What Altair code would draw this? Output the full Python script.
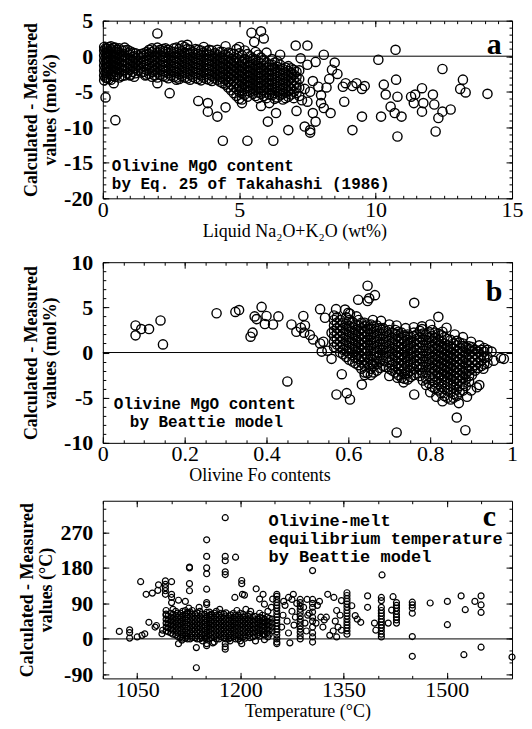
import altair as alt
import pandas as pd

# ---------------- Panel a: Olivine MgO (Takahashi) vs liquid Na2O+K2O ----------------
a_cluster = [
    (0.05, [-3.4, -2.7, -2.0, -1.3, -0.6, 0.1, 0.8, 1.3]),
    (0.15, [-3.1, -2.4, -1.7, -1.0, -0.3, 0.4, 1.1]),
    (0.3, [-3.3, -2.5, -1.8, -1.1, -0.4, 0.3, 1.0, 1.4]),
    (0.45, [-2.9, -2.2, -1.5, -0.8, -0.1, 0.6, 1.2]),
    (0.6, [-3.0, -2.3, -1.6, -0.9, -0.2, 0.5, 1.1]),
    (0.8, [-2.7, -2.0, -1.3, -0.6, 0.1, 0.8]),
    (1.0, [-2.6, -1.9, -1.2, -0.5, 0.2, 0.7]),
    (1.2, [-2.4, -1.7, -1.0, -0.3, 0.4]),
    (1.4, [-2.3, -1.6, -0.9, -0.2, 0.3]),
    (1.6, [-2.6, -1.9, -1.2, -0.5, 0.2, 0.6]),
    (1.8, [-2.9, -2.2, -1.5, -0.8, -0.1, 0.6, 1.1]),
    (2.0, [-3.0, -2.3, -1.6, -0.9, -0.2, 0.5, 1.2]),
    (2.2, [-2.8, -2.1, -1.4, -0.7, 0.0, 0.7, 1.0]),
    (2.4, [-3.1, -2.4, -1.7, -1.0, -0.3, 0.4, 0.9]),
    (2.6, [-2.9, -2.2, -1.5, -0.8, -0.1, 0.6, 1.1]),
    (2.8, [-3.2, -2.5, -1.8, -1.1, -0.4, 0.3, 1.0]),
    (3.0, [-3.0, -2.3, -1.6, -0.9, -0.2, 0.5, 1.3]),
    (3.2, [-3.3, -2.6, -1.9, -1.2, -0.5, 0.2, 0.9]),
    (3.4, [-3.1, -2.4, -1.7, -1.0, -0.3, 0.4, 1.0]),
    (3.6, [-3.4, -2.7, -2.0, -1.3, -0.6, 0.1, 0.8]),
    (3.8, [-3.2, -2.5, -1.8, -1.1, -0.4, 0.3, 0.7]),
    (4.0, [-3.5, -2.8, -2.1, -1.4, -0.7, 0.0, 0.8]),
    (4.2, [-3.3, -2.6, -1.9, -1.2, -0.5, 0.2, 0.9]),
    (4.4, [-3.8, -3.1, -2.4, -1.7, -1.0, -0.3, 0.6]),
    (4.6, [-4.4, -3.6, -2.9, -2.2, -1.5, -0.8, -0.1, 0.5]),
    (4.8, [-5.2, -4.3, -3.5, -2.8, -2.1, -1.4, -0.7, 0.3]),
    (5.0, [-6.0, -5.0, -4.2, -3.4, -2.7, -2.0, -1.3, -0.6, 0.4]),
    (5.2, [-5.4, -4.6, -3.9, -3.2, -2.5, -1.8, -1.1, -0.4, 0.8]),
    (5.4, [-5.0, -4.3, -3.6, -2.9, -2.2, -1.5, -0.8, 0.0]),
    (5.6, [-5.6, -4.8, -4.1, -3.4, -2.7, -2.0, -1.3, -0.5, 0.6]),
    (5.8, [-5.3, -4.5, -3.8, -3.1, -2.4, -1.7, -1.0, -0.2]),
    (6.0, [-5.9, -5.1, -4.4, -3.7, -3.0, -2.3, -1.6, -0.9]),
    (6.2, [-5.5, -4.7, -4.0, -3.3, -2.6, -1.9, -1.2, -0.4]),
    (6.4, [-5.8, -5.0, -4.3, -3.6, -2.9, -2.2, -1.5, -0.7]),
    (6.6, [-6.1, -5.3, -4.6, -3.9, -3.2, -2.5, -1.8]),
    (6.8, [-5.7, -4.9, -4.2, -3.5, -2.8, -2.1, -1.4]),
    (7.0, [-5.9, -5.0, -4.2, -3.4, -2.6, -1.9]),
    (7.2, [-5.6, -4.4, -3.2, -2.0]),
]
a_cluster_fill = [
    (0.1, [-3.0, -2.3, -1.6, -0.9, -0.2, 0.5, 1.1]),
    (0.22, [-3.2, -2.1, -1.4, -0.7, 0.0, 0.7, 1.3]),
    (0.38, [-2.8, -2.0, -1.3, -0.6, 0.1, 0.8, 1.2]),
    (0.52, [-2.6, -1.9, -1.2, -0.5, 0.2, 0.9]),
    (0.7, [-2.8, -2.0, -1.3, -0.6, 0.1, 0.8]),
    (0.9, [-2.4, -1.7, -1.0, -0.3, 0.4, 0.9]),
    (1.1, [-2.2, -1.5, -0.8, -0.1, 0.5]),
    (1.3, [-2.0, -1.3, -0.6, 0.1]),
    (1.5, [-2.2, -1.4, -0.7, 0.0, 0.4]),
    (1.7, [-2.5, -1.8, -1.1, -0.4, 0.3, 0.9]),
    (1.9, [-2.7, -2.0, -1.3, -0.6, 0.1, 0.8]),
    (2.1, [-2.6, -1.9, -1.2, -0.5, 0.2, 0.9]),
    (2.3, [-2.9, -2.2, -1.5, -0.8, -0.1, 0.6, 1.1]),
    (2.5, [-2.7, -2.0, -1.3, -0.6, 0.1, 0.7]),
    (2.7, [-3.0, -2.3, -1.6, -0.9, -0.2, 0.5, 1.2]),
    (2.9, [-2.8, -2.1, -1.4, -0.7, 0.0, 0.7]),
    (3.1, [-3.1, -2.4, -1.7, -1.0, -0.3, 0.4, 1.0]),
    (3.3, [-2.9, -2.2, -1.5, -0.8, -0.1, 0.6]),
    (3.5, [-3.2, -2.5, -1.8, -1.1, -0.4, 0.3, 0.9]),
    (3.7, [-3.0, -2.3, -1.6, -0.9, -0.2, 0.5]),
    (3.9, [-3.3, -2.6, -1.9, -1.2, -0.5, 0.2, 0.9]),
    (4.1, [-3.1, -2.4, -1.7, -1.0, -0.3, 0.4]),
    (4.3, [-3.6, -2.9, -2.2, -1.5, -0.8, -0.1, 0.6]),
    (4.5, [-4.0, -3.3, -2.6, -1.9, -1.2, -0.5, 0.2]),
    (4.7, [-4.8, -4.0, -3.2, -2.5, -1.8, -1.1, -0.4, 0.4]),
    (4.9, [-5.6, -4.6, -3.8, -3.1, -2.4, -1.7, -1.0, -0.3]),
    (5.1, [-5.2, -4.4, -3.6, -2.9, -2.2, -1.5, -0.8, 0.1]),
    (5.3, [-5.7, -4.9, -4.2, -3.5, -2.8, -2.1, -1.4, -0.7, 0.3]),
    (5.5, [-5.3, -4.6, -3.9, -3.2, -2.5, -1.8, -1.1, -0.3]),
    (5.7, [-5.9, -5.1, -4.4, -3.7, -3.0, -2.3, -1.6, -0.8, 0.2]),
    (5.9, [-5.6, -4.8, -4.1, -3.4, -2.7, -2.0, -1.3, -0.5]),
    (6.1, [-5.4, -4.7, -4.0, -3.3, -2.6, -1.9, -1.2]),
    (6.3, [-6.0, -5.2, -4.5, -3.8, -3.1, -2.4, -1.7, -0.9]),
    (6.5, [-5.5, -4.8, -4.1, -3.4, -2.7, -2.0, -1.2]),
    (6.7, [-5.9, -5.1, -4.4, -3.7, -3.0, -2.3, -1.6]),
    (6.9, [-5.4, -4.6, -3.8, -3.1, -2.4, -1.7]),
    (7.1, [-5.2, -4.5, -3.7, -2.9, -2.2]),
]
a_scatter = [
    (0.1, -5.8), (0.46, -9.0), (0.4, -3.8), (1.0, -2.7), (1.15, -2.9), (1.56, -2.7),
    (2.0, 3.2), (2.0, -3.8), (2.45, -5.2), (2.7, -3.3), (3.5, -6.3), (3.85, -6.6),
    (3.85, -7.8), (4.2, -8.5), (4.4, -11.9), (4.5, -7.2), (5.3, -11.9), (5.45, 3.3),
    (5.8, 3.5), (5.9, 2.5), (5.55, 2.0), (6.25, -11.9), (6.05, -9.2), (6.35, -8.0),
    (6.1, -6.6), (5.8, -7.0), (5.1, -6.1), (5.1, -6.6), (6.8, -10.4), (7.1, -7.7),
    (7.07, 1.5), (7.5, 1.5), (7.6, -10.4), (7.6, -10.75), (7.4, -9.9), (7.8, -9.2),
    (7.7, -8.0), (8.0, -6.6), (8.1, -7.3), (8.35, -8.0), (8.1, 0.2), (8.85, -6.4),
    (8.5, -0.9), (8.4, -1.9), (9.15, -4.2), (9.3, -3.8), (9.5, -4.6), (9.6, -4.2),
    (9.5, -8.5), (9.15, -10.4), (10.1, -0.5), (10.2, -8.5), (10.3, -4.0), (10.37, -5.4),
    (10.55, -7.1), (10.7, -8.0), (10.73, 0.9), (10.75, -3.3), (10.8, -5.7), (10.8, -11.3),
    (10.95, -8.5), (11.3, -5.7), (11.4, -6.6), (11.7, -4.5), (11.7, -7.8), (11.75, -6.6),
    (12.1, -5.4), (12.15, -6.8), (12.2, -10.6), (12.3, -8.7), (12.45, -7.8), (12.75, -7.5),
    (12.45, -1.8), (13.2, -3.3), (13.1, -4.6), (13.3, -5.1), (14.1, -5.3), (11.45, -5.4),
    (7.4, -4.6), (7.6, -5.0), (7.7, -3.5), (7.9, -4.3), (8.0, -5.5), (8.2, -4.4),
    (7.5, -1.2), (7.8, -0.8), (8.3, -3.2), (8.6, -2.5), (8.8, -4.3), (8.9, -3.8),
    (7.3, -6.2), (7.5, -6.4), (7.25, -0.3), (6.5, 0.2), (6.0, 0.5), (4.9, 1.0),
    (5.0, 1.3), (4.5, 1.4), (3.1, 1.6), (2.9, 1.5), (3.7, 1.3), (0.8, 1.2),
]
a_notes = [(0.33, -15.5, "Olivine MgO content"), (0.33, -18.0, "by Eq. 25 of Takahashi (1986)")]
a_letter = [(14.35, 1.6, "a")]

# ---------------- Panel b: Olivine MgO (Beattie) vs olivine Fo ----------------
b_cluster = [
    (0.565, [0.6, 1.2, 1.8, 2.4, 3.0, 3.6, 4.1]),
    (0.58, [0.0, 0.6, 1.2, 1.8, 2.4, 3.0, 3.6]),
    (0.595, [-0.5, 0.2, 0.8, 1.4, 2.0, 2.6, 3.2, 3.9]),
    (0.61, [-1.0, -0.3, 0.4, 1.0, 1.6, 2.2, 2.8, 3.4]),
    (0.625, [-1.4, -0.7, 0.0, 0.6, 1.2, 1.8, 2.4, 3.0, 3.6]),
    (0.64, [-2.2, -1.5, -0.8, -0.1, 0.5, 1.1, 1.7, 2.3, 2.9, 3.3]),
    (0.655, [-2.5, -1.8, -1.1, -0.4, 0.2, 0.8, 1.4, 2.0, 2.6, 3.1]),
    (0.67, [-2.0, -1.3, -0.6, 0.0, 0.6, 1.2, 1.8, 2.4, 3.0]),
    (0.685, [-1.5, -0.9, -0.3, 0.3, 0.9, 1.5, 2.1, 2.7]),
    (0.70, [-1.8, -1.1, -0.5, 0.1, 0.7, 1.3, 1.9, 2.5]),
    (0.715, [-2.2, -1.5, -0.9, -0.3, 0.3, 0.9, 1.5, 2.1, 2.5]),
    (0.73, [-2.8, -2.1, -1.4, -0.8, -0.2, 0.4, 1.0, 1.6, 2.2]),
    (0.745, [-3.0, -2.3, -1.6, -1.0, -0.4, 0.2, 0.8, 1.4, 2.0]),
    (0.76, [-2.5, -1.8, -1.2, -0.6, 0.0, 0.6, 1.2, 1.8, 2.2]),
    (0.775, [-2.6, -1.9, -1.3, -0.7, -0.1, 0.5, 1.1, 1.7, 2.4]),
    (0.79, [-3.6, -2.9, -2.2, -1.6, -1.0, -0.4, 0.2, 0.8, 1.4, 2.0]),
    (0.805, [-3.8, -3.1, -2.4, -1.8, -1.2, -0.6, 0.0, 0.6, 1.2, 1.8, 2.5]),
    (0.82, [-4.2, -3.5, -2.8, -2.2, -1.6, -1.0, -0.4, 0.2, 0.8, 1.4, 2.1]),
    (0.835, [-4.8, -4.0, -3.3, -2.6, -2.0, -1.4, -0.8, -0.2, 0.4, 1.0, 1.7]),
    (0.85, [-5.2, -4.4, -3.7, -3.0, -2.4, -1.8, -1.2, -0.6, 0.0, 0.6, 1.4]),
    (0.865, [-4.8, -4.1, -3.4, -2.8, -2.2, -1.6, -1.0, -0.4, 0.2, 0.8, 1.3]),
    (0.88, [-4.2, -3.5, -2.9, -2.3, -1.7, -1.1, -0.5, 0.1, 0.7, 1.0]),
    (0.895, [-3.2, -2.6, -2.0, -1.4, -0.8, -0.2, 0.4, 0.7]),
    (0.91, [-2.0, -1.4, -0.8, -0.2, 0.3]),
    (0.925, [-1.5, -0.9, -0.3, 0.3]),
    (0.94, [-1.2, -0.5, 0.3]),
]
b_cluster_fill = [
    (0.572, [0.9, 1.5, 2.1, 2.7, 3.3, 3.9]),
    (0.587, [-0.2, 0.3, 0.9, 1.5, 2.1, 2.7, 3.3]),
    (0.602, [-0.8, -0.1, 0.5, 1.1, 1.7, 2.3, 2.9, 3.6]),
    (0.617, [-1.2, -0.6, 0.1, 0.7, 1.3, 1.9, 2.5, 3.1]),
    (0.632, [-1.8, -1.1, -0.4, 0.3, 0.9, 1.5, 2.1, 2.7, 3.3]),
    (0.647, [-2.3, -1.2, -0.5, 0.2, 0.8, 1.4, 2.0, 2.6, 3.1]),
    (0.662, [-2.2, -1.5, -0.8, -0.1, 0.5, 1.1, 1.7, 2.3, 2.9]),
    (0.677, [-1.7, -1.0, -0.3, 0.3, 0.9, 1.5, 2.1, 2.7]),
    (0.692, [-1.6, -0.6, 0.0, 0.6, 1.2, 1.8, 2.4]),
    (0.707, [-2.0, -1.4, -0.8, -0.2, 0.4, 1.0, 1.6, 2.2]),
    (0.722, [-2.5, -1.8, -1.2, -0.6, 0.0, 0.6, 1.2, 1.8, 2.3]),
    (0.737, [-2.9, -2.4, -1.7, -1.1, -0.5, 0.1, 0.7, 1.3, 1.9]),
    (0.752, [-2.7, -2.0, -1.3, -0.7, -0.1, 0.5, 1.1, 1.7]),
    (0.767, [-2.3, -1.5, -0.9, -0.3, 0.3, 0.9, 1.5, 2.0]),
    (0.782, [-3.1, -2.3, -1.6, -1.0, -0.4, 0.2, 0.8, 1.4, 2.1]),
    (0.797, [-3.4, -2.6, -1.9, -1.3, -0.7, -0.1, 0.5, 1.1, 1.7, 2.3]),
    (0.812, [-4.0, -3.3, -2.6, -2.0, -1.4, -0.8, -0.2, 0.4, 1.0, 1.6, 2.2]),
    (0.827, [-4.5, -3.8, -3.1, -2.4, -1.8, -1.2, -0.6, 0.0, 0.6, 1.2, 1.9]),
    (0.842, [-5.0, -4.2, -3.5, -2.8, -2.2, -1.6, -1.0, -0.4, 0.2, 0.8, 1.5]),
    (0.857, [-4.6, -3.9, -3.2, -2.6, -2.0, -1.4, -0.8, -0.2, 0.4, 1.0]),
    (0.872, [-4.4, -3.7, -3.1, -2.5, -1.9, -1.3, -0.7, -0.1, 0.5, 1.1]),
    (0.887, [-3.7, -3.0, -2.4, -1.8, -1.2, -0.6, 0.0, 0.6]),
    (0.902, [-2.5, -1.8, -1.1, -0.5, 0.1, 0.6]),
    (0.917, [-1.7, -1.1, -0.5, 0.1]),
    (0.932, [-1.3, -0.6, 0.1, 0.5]),
]
b_scatter = [
    (0.08, 3.0), (0.08, 1.9), (0.094, 2.6), (0.113, 2.6), (0.141, 3.55), (0.147, 0.9),
    (0.278, 4.35), (0.324, 4.5), (0.333, 4.7), (0.361, 1.75), (0.366, 2.2), (0.371, 4.0),
    (0.376, 3.7), (0.388, 5.05), (0.40, 4.05), (0.396, 3.15), (0.416, 3.1), (0.429, 4.0),
    (0.451, -3.2), (0.461, 3.1), (0.473, 2.3), (0.484, 2.75), (0.492, 2.2), (0.49, 4.05),
    (0.494, 3.0), (0.506, 1.95), (0.514, 1.45), (0.531, 1.0), (0.539, 1.2), (0.535, 0.1),
    (0.549, 0.2), (0.531, 4.8), (0.543, 3.85), (0.559, 2.2), (0.559, -0.7), (0.57, 4.8),
    (0.571, -4.65), (0.584, -2.4), (0.596, -4.5), (0.604, -5.2), (0.592, 4.75), (0.604, 4.3),
    (0.624, 5.85), (0.633, -3.55), (0.647, 7.4), (0.647, 5.7), (0.651, 6.0), (0.665, 6.35),
    (0.718, 3.0), (0.718, -8.85), (0.761, 5.5), (0.761, -4.65), (0.82, 3.95), (0.865, -7.2),
    (0.886, -8.6), (0.914, -3.85), (0.92, -3.6), (0.955, -0.9), (0.973, -0.6), (0.98, -0.7),
    (0.78, 2.6), (0.84, 2.75), (0.857, -5.0), (0.64, -2.5), (0.66, -1.3), (0.70, -2.6),
    (0.72, -2.8), (0.735, -3.3), (0.80, -4.4), (0.815, -4.9), (0.83, -5.4), (0.87, -5.6),
    (0.89, -4.9), (0.90, -4.2), (0.93, -1.8), (0.95, 0.1), (0.60, 4.4), (0.62, 4.0),
    (0.66, 3.6), (0.68, 3.5), (0.70, 3.1), (0.74, 2.7), (0.76, 2.8), (0.78, 2.9),
    (0.80, 3.1), (0.83, 2.3), (0.86, 2.0), (0.88, 1.7), (0.90, 1.2), (0.92, 0.8),
]
b_notes = [(0.027, -5.75, "Olivine MgO content"), (0.066, -7.7, "by Beattie model")]
b_letter = [(0.956, 6.7, "b")]

# ---------------- Panel c: olivine-melt temperature (Beattie) vs temperature ----------------
c_cluster = [
    (1092, [20, 30, 40, 50, 60]),
    (1099, [15, 25, 35, 45, 55, 65]),
    (1106, [10, 20, 30, 40, 50, 60, 70]),
    (1113, [5, 15, 25, 35, 45, 55, 65]),
    (1120, [2, 12, 22, 32, 42, 52, 62, 72]),
    (1127, [0, 8, 18, 28, 38, 48, 58, 68]),
    (1134, [3, 13, 23, 33, 43, 53, 63]),
    (1141, [0, 8, 18, 28, 38, 48, 58, 70]),
    (1148, [2, 12, 22, 32, 42, 52, 62]),
    (1155, [0, 10, 20, 30, 40, 50, 60, 68]),
    (1162, [5, 15, 25, 35, 45, 55, 65]),
    (1169, [0, 10, 20, 30, 40, 50, 60]),
    (1176, [3, 13, 23, 33, 43, 53, 63]),
    (1183, [0, 8, 18, 28, 38, 48, 58]),
    (1190, [5, 15, 25, 35, 45, 55, 65]),
    (1197, [0, 10, 20, 30, 40, 50, 60]),
    (1204, [5, 15, 25, 35, 45, 55, 62]),
    (1211, [8, 18, 28, 38, 48, 58]),
    (1218, [5, 15, 25, 35, 45, 55]),
    (1225, [10, 20, 30, 40, 50]),
    (1232, [12, 22, 32, 42, 52, 60]),
    (1239, [15, 25, 35, 45, 55]),
    (1246, [20, 30, 40, 50]),
    (1253, [113, 108, 100, 92, 85, 78, 70, 62, 55, 48, 40, 32, 25, 18, 10, 0, -8, -12]),
    (1287, [100, 92, 83, 75, 67, 58, 50, 42, 33, 25, 17, 8, 0]),
    (1305, [100, 90, 80, 68, 55, 45, 30, 15, 5, -8]),
    (1355, [117, 110, 102, 95, 88, 80, 72, 65, 58, 50, 42, 35, 28, 20, 12]),
    (1405, [105, 97, 80, 72, 65, 58, 50, 43, 35, 28, 20, 12, 5]),
    (1427, [92, 85, 78, 70, 62, 55, 48, 40]),
    (1450, [93, 86, 78, 65, 6, -44]),
    (1550, [109, 86, 67, -21]),
    (1100, [145, 113, 105, 92]),
    (1091, [147, 138, 130, 122, 113]),
    (1151, [251, 209, 180, 165, 126, 92, 87, -12, -17]),
    (1178, [307, 209, 198, 170, 163, -12, -20, -26]),
    (1126, [182, 180, 140, 122]),
    (1202, [148, 140, -12]),
]
c_cluster_fill = [
    (1095, [18, 28, 38, 48, 58]),
    (1102, [12, 22, 32, 42, 52, 62]),
    (1109, [6, 15, 25, 35, 45, 55, 65]),
    (1116, [2, 10, 20, 30, 40, 50, 60, 70]),
    (1123, [0, 7, 17, 27, 37, 47, 57, 67]),
    (1130, [4, 13, 23, 33, 43, 53, 63, 72]),
    (1137, [0, 8, 18, 28, 38, 48, 58, 66]),
    (1144, [3, 13, 23, 33, 43, 53, 63]),
    (1151, [0, 7, 17, 27, 37, 47, 57, 67]),
    (1158, [3, 15, 25, 35, 45, 55, 63]),
    (1165, [0, 10, 20, 30, 40, 50, 60, 70]),
    (1172, [5, 15, 25, 35, 45, 55, 65]),
    (1179, [0, 8, 18, 28, 38, 48, 58, 66]),
    (1186, [3, 13, 23, 33, 43, 53, 61]),
    (1193, [0, 10, 20, 30, 40, 50, 60]),
    (1200, [5, 15, 25, 35, 45, 55, 65]),
    (1207, [2, 10, 20, 30, 40, 50, 58]),
    (1214, [3, 13, 23, 33, 43, 53, 62]),
    (1221, [8, 18, 28, 38, 48, 57]),
    (1228, [7, 15, 25, 35, 45, 55]),
    (1235, [10, 20, 30, 40, 50]),
    (1242, [12, 22, 32, 42, 52]),
]
c_scatter = [
    (1024, 19), (1039, 23), (1039, 16), (1039, 2), (1050, 5), (1055, 145), (1057, 9),
    (1061, 13), (1063, 113), (1067, 42), (1072, 116), (1076, 30), (1078, 34), (1080, 123),
    (1081, 137), (1087, 22), (1086, 13), (1092, 72), (1092, 63), (1110, 98), (1120, 95),
    (1136, -22), (1136, -73), (1162, -8), (1192, 105), (1193, 207), (1203, 113), (1206, 111),
    (1223, 127), (1228, 101), (1233, 113), (1305, 173), (1406, 162), (1476, 91), (1501, 95),
    (1501, 36), (1521, 109), (1527, 74), (1525, -40), (1541, 95), (1595, -46),
    (1247, 101), (1270, 105), (1277, 113), (1297, 100), (1317, 55), (1325, 55), (1322, 48),
    (1327, 113), (1336, 105), (1340, 72), (1342, 30), (1347, 22), (1340, 5), (1330, 9),
    (1347, 97), (1362, 84), (1367, 59), (1375, 42), (1370, 50), (1385, 109), (1385, 80),
    (1395, 40), (1397, 22), (1415, 40), (1422, 107), (1420, 73),
    (1260, 30), (1262, 60), (1265, 85), (1268, 45), (1270, 15), (1272, -10), (1275, 70),
    (1278, 35), (1280, 55), (1282, 90), (1292, 80), (1294, 40), (1296, 20), (1298, 60),
    (1263, 95), (1275, 100), (1310, 40), (1312, 85), (1315, 95), (1320, 30), (1335, 20),
    (1338, 45), (1345, 60), (1300, 65),
    (1228, 65), (1240, 70), (1235, 88), (1245, 80), (1215, 70), (1208, 75), (1140, 80),
    (1145, -5), (1160, -10), (1185, -5), (1200, -5), (1170, 75), (1115, -3), (1125, 78),
    (1240, 5), (1235, -2), (1195, 72), (1102, 75), (1222, -5), (1110, -12),
]
c_notes = [(1241, 298, "Olivine-melt"), (1241, 253, "equilibrium temperature"),
           (1241, 208, "by Beattie model")]
c_letter = [(1562, 310, "c")]

SERIF = "Liberation Serif"
MONO = "Liberation Mono"


def points_df(clusters, scatter):
    rows = [(x, y) for cl in clusters for x, ys in cl for y in ys] + list(scatter)
    return pd.DataFrame(rows, columns=["x", "y"])


def text_df(items):
    return pd.DataFrame(items, columns=["x", "y", "t"])


def panel(pts, notes, letter, xdom, ydom, xmaj, xmin, ymaj, ymin, size, sw, xtitle, ytitle,
          title_x, note_size, height):
    sx = alt.Scale(domain=xdom, nice=False, zero=False)
    sy = alt.Scale(domain=ydom, nice=False, zero=False)
    lab = "'' + datum.value"
    common = dict(domain=False, grid=False, tickColor="black", tickWidth=1)

    ax_b = alt.Axis(orient="bottom", values=xmaj, labelExpr=lab, tickSize=6, offset=-6,
                    labelFont=SERIF, labelFontSize=22, labelPadding=1, labelColor="black",
                    labelFlush=False, labelOverlap=False,
                    titleFont=SERIF, titleFontSize=18, titleFontWeight="normal",
                    titleColor="black", titlePadding=2, titleX=title_x, **common)
    ax_l = alt.Axis(orient="left", values=ymaj, labelExpr=lab, tickSize=6, offset=-6,
                    labelFont=SERIF, labelFontSize=22, labelFontWeight="bold",
                    labelPadding=10, labelColor="black", labelFlush=False, labelOverlap=False,
                    titleFont=SERIF, titleFontSize=18, titleFontWeight="bold",
                    titleColor="black", titlePadding=4, titleLineHeight=19, **common)
    ax_bm = alt.Axis(orient="bottom", values=xmin, labels=False, tickSize=3, offset=-3, **common)
    ax_lm = alt.Axis(orient="left", values=ymin, labels=False, tickSize=3, offset=-3, **common)
    ax_t = alt.Axis(orient="top", values=xmaj, labels=False, tickSize=6, offset=-6, **common)
    ax_r = alt.Axis(orient="right", values=ymaj, labels=False, tickSize=6, offset=-6, **common)
    ax_tm = alt.Axis(orient="top", values=xmin, labels=False, tickSize=3, offset=-3, **common)
    ax_rm = alt.Axis(orient="right", values=ymin, labels=False, tickSize=3, offset=-3, **common)

    zero = pd.DataFrame({"x": [xdom[0]], "x2": [xdom[1]], "y": [0]})

    rule = alt.Chart(zero).mark_rule(color="black", strokeWidth=1).encode(
        x=alt.X("x:Q", scale=sx, axis=ax_tm, title=None),
        x2="x2:Q",
        y=alt.Y("y:Q", scale=sy, axis=ax_rm, title=None),
    )
    dots = alt.Chart(pts).mark_point(shape="circle", filled=False, color="black",
                                     size=size, strokeWidth=sw, opacity=1).encode(
        x=alt.X("x:Q", scale=sx, axis=ax_b, title=xtitle),
        y=alt.Y("y:Q", scale=sy, axis=ax_l, title=ytitle),
    )
    txt = alt.Chart(notes).mark_text(align="left", baseline="middle", font=MONO,
                                     fontWeight="bold", fontSize=note_size,
                                     color="black").encode(
        x=alt.X("x:Q", scale=sx, axis=ax_bm, title=None),
        y=alt.Y("y:Q", scale=sy, axis=ax_lm, title=None),
        text="t:N",
    )
    let = alt.Chart(letter).mark_text(align="center", baseline="middle", font=SERIF,
                                      fontWeight="bold", fontSize=30,
                                      color="black").encode(
        x=alt.X("x:Q", scale=sx, axis=ax_t, title=None),
        y=alt.Y("y:Q", scale=sy, axis=ax_r, title=None),
        text="t:N",
    )
    return alt.layer(dots, rule, txt, let).resolve_axis(
        x="independent", y="independent").properties(width=410, height=height)


pa = panel(points_df([a_cluster, a_cluster_fill], a_scatter), text_df(a_notes),
           text_df(a_letter),
           [0, 15], [-20, 5], [0, 5, 10, 15], [i * 0.5 for i in range(31)],
           [-20, -15, -10, -5, 0, 5], list(range(-20, 6)), 85, 1.4,
           "Liquid Na₂O+K₂O (wt%)", ["Calculated - Measured", "values (mol%)"],
           192, 16, 178)
pb = panel(points_df([b_cluster, b_cluster_fill], b_scatter), text_df(b_notes),
           text_df(b_letter),
           [0, 1], [-10, 10], [0, 0.2, 0.4, 0.6, 0.8, 1], [i * 0.05 for i in range(21)],
           [-10, -5, 0, 5, 10], list(range(-10, 11)), 85, 1.4,
           "Olivine Fo contents", ["Calculated - Measured", "values (mol%)"],
           157, 16, 181)
pc = panel(points_df([c_cluster, c_cluster_fill], c_scatter), text_df(c_notes),
           text_df(c_letter),
           [1000, 1595], [-100, 350], [1050, 1200, 1350, 1500], list(range(1000, 1600, 50)),
           [-90, 0, 90, 180, 270], list(range(-90, 350, 30)), 36, 1.2,
           "Temperature (°C)", ["Calculated - Measured", "values (°C)"],
           205, 17, 178)

top = alt.vconcat(pa, pb, spacing=9)
chart = alt.vconcat(top, pc, spacing=14).properties(
    padding={"left": 10, "top": 0, "right": 0, "bottom": 0},
    background="white",
).configure_view(stroke="black", strokeWidth=1)

chart.save("out.html", embed_options={"renderer": "svg", "actions": False})
